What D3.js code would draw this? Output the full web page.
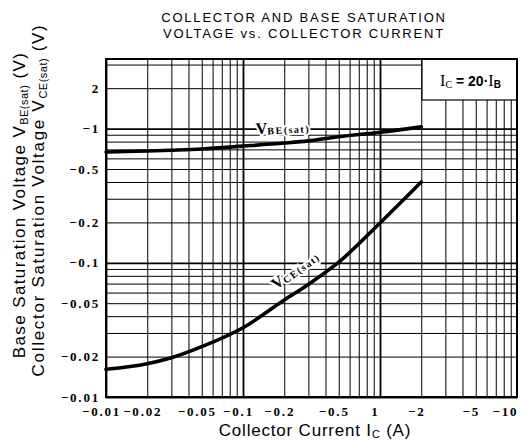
<!DOCTYPE html>
<html>
<head>
<meta charset="utf-8">
<script src="https://cdn.jsdelivr.net/npm/d3@7"></script>
<style>
  body { margin: 0; background: #fff; }
  svg { display: block; }
</style>
</head>
<body>
<div id="chart"></div>
<script>
// values (Ic in A, V in V)
const collectorCurrent = [0.01, 0.02, 0.03, 0.05, 0.1, 0.2, 0.3, 0.5, 1, 2];
const vbeSat = [0.67, 0.68, 0.69, 0.705, 0.74, 0.78, 0.81, 0.87, 0.94, 1.03];
const vceSat = [0.0161, 0.0177, 0.0196, 0.0237, 0.0328, 0.0528, 0.069, 0.101, 0.198, 0.40];

const xTicks = [0.01, 0.02, 0.05, 0.1, 0.2, 0.5, 1, 2, 5, 10];
const xTickLabels = ["\u22120.01", "\u22120.02", "\u22120.05", "\u22120.1", "\u22120.2", "\u22120.5", "1", "\u22122", "\u22125", "\u221210"];
const yTicks = [0.01, 0.02, 0.05, 0.1, 0.2, 0.5, 1, 2];
const yTickLabels = ["\u22120.01", "\u22120.02", "\u22120.05", "\u22120.1", "\u22120.2", "\u22120.5", "\u22121", "2"];

const W = 524, H = 442;
const plot = {left: 106, right: 517, top: 59, bottom: 397};

const svg = d3.select('#chart').append('svg')
    .attr('width', W)
    .attr('height', H);

const x = d3.scaleLog().domain([0.01, 10]).range([plot.left, plot.right]);
const y = d3.scaleLog().domain([0.01, 3.3]).range([plot.bottom, plot.top]);

// grid: 1..9 in every decade
const gridX = [], gridY = [];
[0.01, 0.1, 1].forEach(d => { for (let k = 1; k < 10; k++) gridX.push(d * k); });
[0.01, 0.1, 1].forEach(d => { for (let k = 1; k < 10; k++) if (d * k <= 3.3) gridY.push(d * k); });

const isDecade = d => Math.abs(Math.log10(d) - Math.round(Math.log10(d))) < 1e-6;

const grid = svg.append('g').attr('id', 'grid');
grid.append('g')
    .attr('transform', `translate(0,${plot.bottom})`)
    .call(d3.axisBottom(x).tickValues(gridX).tickSize(-(plot.bottom - plot.top)).tickFormat(''))
    .call(g => g.select('.domain').remove())
    .call(g => g.selectAll('line').attr('stroke', '#000').attr('stroke-width', d => isDecade(d) ? 1.8 : 1));
grid.append('g')
    .attr('transform', `translate(${plot.left},0)`)
    .call(d3.axisLeft(y).tickValues(gridY).tickSize(-(plot.right - plot.left)).tickFormat(''))
    .call(g => g.select('.domain').remove())
    .call(g => g.selectAll('line').attr('stroke', '#000').attr('stroke-width', d => isDecade(d) ? 1.8 : 1));

// condition box in the top right corner covers the grid
const boxLeft = 422, boxBottom = 100;
svg.append('rect')
    .attr('x', boxLeft).attr('y', plot.top)
    .attr('width', plot.right - boxLeft).attr('height', boxBottom - plot.top)
    .attr('fill', '#fff').attr('stroke', '#000').attr('stroke-width', 1.2);
const cond = svg.append('text')
    .attr('x', (boxLeft + plot.right) / 2 + 1).attr('y', 86)
    .attr('text-anchor', 'middle')
    .attr('font-family', 'Liberation Serif, serif')
    .attr('font-size', 16);
cond.append('tspan').text('I');
cond.append('tspan').attr('font-size', 10).attr('dy', 2).text('C');
cond.append('tspan').attr('dy', -2).attr('font-weight', 'bold').attr('font-family', 'Liberation Sans, sans-serif').attr('font-size', 14).text(' = 20\u00b7');
cond.append('tspan').text('I');
cond.append('tspan').attr('font-size', 10).attr('dy', 2).attr('font-weight', 'bold').attr('font-family', 'Liberation Sans, sans-serif').text('B');

// curves
const line = d3.line()
    .x(d => x(d[0]))
    .y(d => y(d[1]))
    .curve(d3.curveMonotoneX);

const curves = [
    {id: 'VBE(sat)', values: vbeSat},
    {id: 'VCE(sat)', values: vceSat}
];
curves.forEach(c => {
    svg.append('path')
        .datum(collectorCurrent.map((ic, i) => [ic, c.values[i]]))
        .attr('id', c.id)
        .attr('fill', 'none')
        .attr('stroke', '#000')
        .attr('stroke-width', 3.6)
        .attr('stroke-linecap', 'round')
        .attr('d', line);
});

// curve labels with white halo
function curveLabel(tx, ty, angle, sub) {
    const t = svg.append('text')
        .attr('transform', `translate(${tx},${ty}) rotate(${angle})`)
        .attr('font-family', 'Liberation Serif, serif')
        .attr('font-weight', 'bold')
        .attr('font-size', 16)
        .attr('fill', '#000')
        .attr('stroke', '#fff').attr('stroke-width', 4)
        .attr('paint-order', 'stroke');
    t.append('tspan').text('V');
    t.append('tspan').attr('font-size', 10).attr('letter-spacing', 1.5).attr('dy', 1).text(sub);
}
curveLabel(256, 134, -3, 'BE(sat)');
curveLabel(276, 290, -36, 'CE(sat)');

// frame
svg.append('rect')
    .attr('x', plot.left).attr('y', plot.top)
    .attr('width', plot.right - plot.left).attr('height', plot.bottom - plot.top)
    .attr('fill', 'none').attr('stroke', '#000').attr('stroke-width', 2);

// tick labels
const tickFont = 'Liberation Serif, serif';
const xAxis = svg.append('g')
    .attr('id', 'X Axis')
    .attr('transform', `translate(0,${plot.bottom})`)
    .call(d3.axisBottom(x).tickValues(xTicks).tickSize(0).tickPadding(10)
        .tickFormat((d, i) => xTickLabels[i]));
xAxis.select('.domain').remove();
xAxis.selectAll('text')
    .attr('font-family', tickFont).attr('font-weight', 'bold')
    .attr('font-size', 13).attr('letter-spacing', 1.8)
    .attr('dx', (d, i) => i === xTicks.length - 1 ? -12 : -5);

const yAxis = svg.append('g')
    .attr('id', 'Y Axis')
    .attr('transform', `translate(${plot.left},0)`)
    .call(d3.axisLeft(y).tickValues(yTicks).tickSize(0).tickPadding(6)
        .tickFormat((d, i) => yTickLabels[i]));
yAxis.select('.domain').remove();
yAxis.selectAll('text')
    .attr('font-family', tickFont).attr('font-weight', 'bold')
    .attr('font-size', 13).attr('letter-spacing', 1.8);

// titles
const title = svg.append('text')
    .attr('text-anchor', 'middle')
    .attr('font-family', 'Liberation Sans, sans-serif')
    .attr('font-size', 13)
    .attr('letter-spacing', 1.8);
title.append('tspan').attr('x', 304).attr('y', 22).text('COLLECTOR AND BASE SATURATION');
title.append('tspan').attr('x', 304).attr('y', 38).text('VOLTAGE vs. COLLECTOR CURRENT');

const xTitle = svg.append('text')
    .attr('x', 315).attr('y', 436)
    .attr('text-anchor', 'middle')
    .attr('font-family', 'Liberation Sans, sans-serif')
    .attr('font-size', 17)
    .attr('letter-spacing', 0.8);
xTitle.append('tspan').text('Collector Current  I');
xTitle.append('tspan').attr('font-size', 11).attr('dy', 2).text('C');
xTitle.append('tspan').attr('dy', -2).text(' (A)');

function yTitle(cx, cy, main, sub, spacing) {
    const t = svg.append('text')
        .attr('transform', `translate(${cx},${cy}) rotate(-90)`)
        .attr('text-anchor', 'middle')
        .attr('font-family', 'Liberation Sans, sans-serif')
        .attr('font-size', 17)
        .attr('letter-spacing', spacing);
    t.append('tspan').text(main + ' V');
    t.append('tspan').attr('font-size', 11).attr('dy', 3).attr('letter-spacing', 0.5).text(sub);
    t.append('tspan').attr('dy', -3).text(' (V)');
}
yTitle(25, 205, 'Base Saturation Voltage', 'BE(sat)', 1.4);
yTitle(44, 200, 'Collector Saturation Voltage', 'CE(sat)', 1.7);
</script>
</body>
</html>
